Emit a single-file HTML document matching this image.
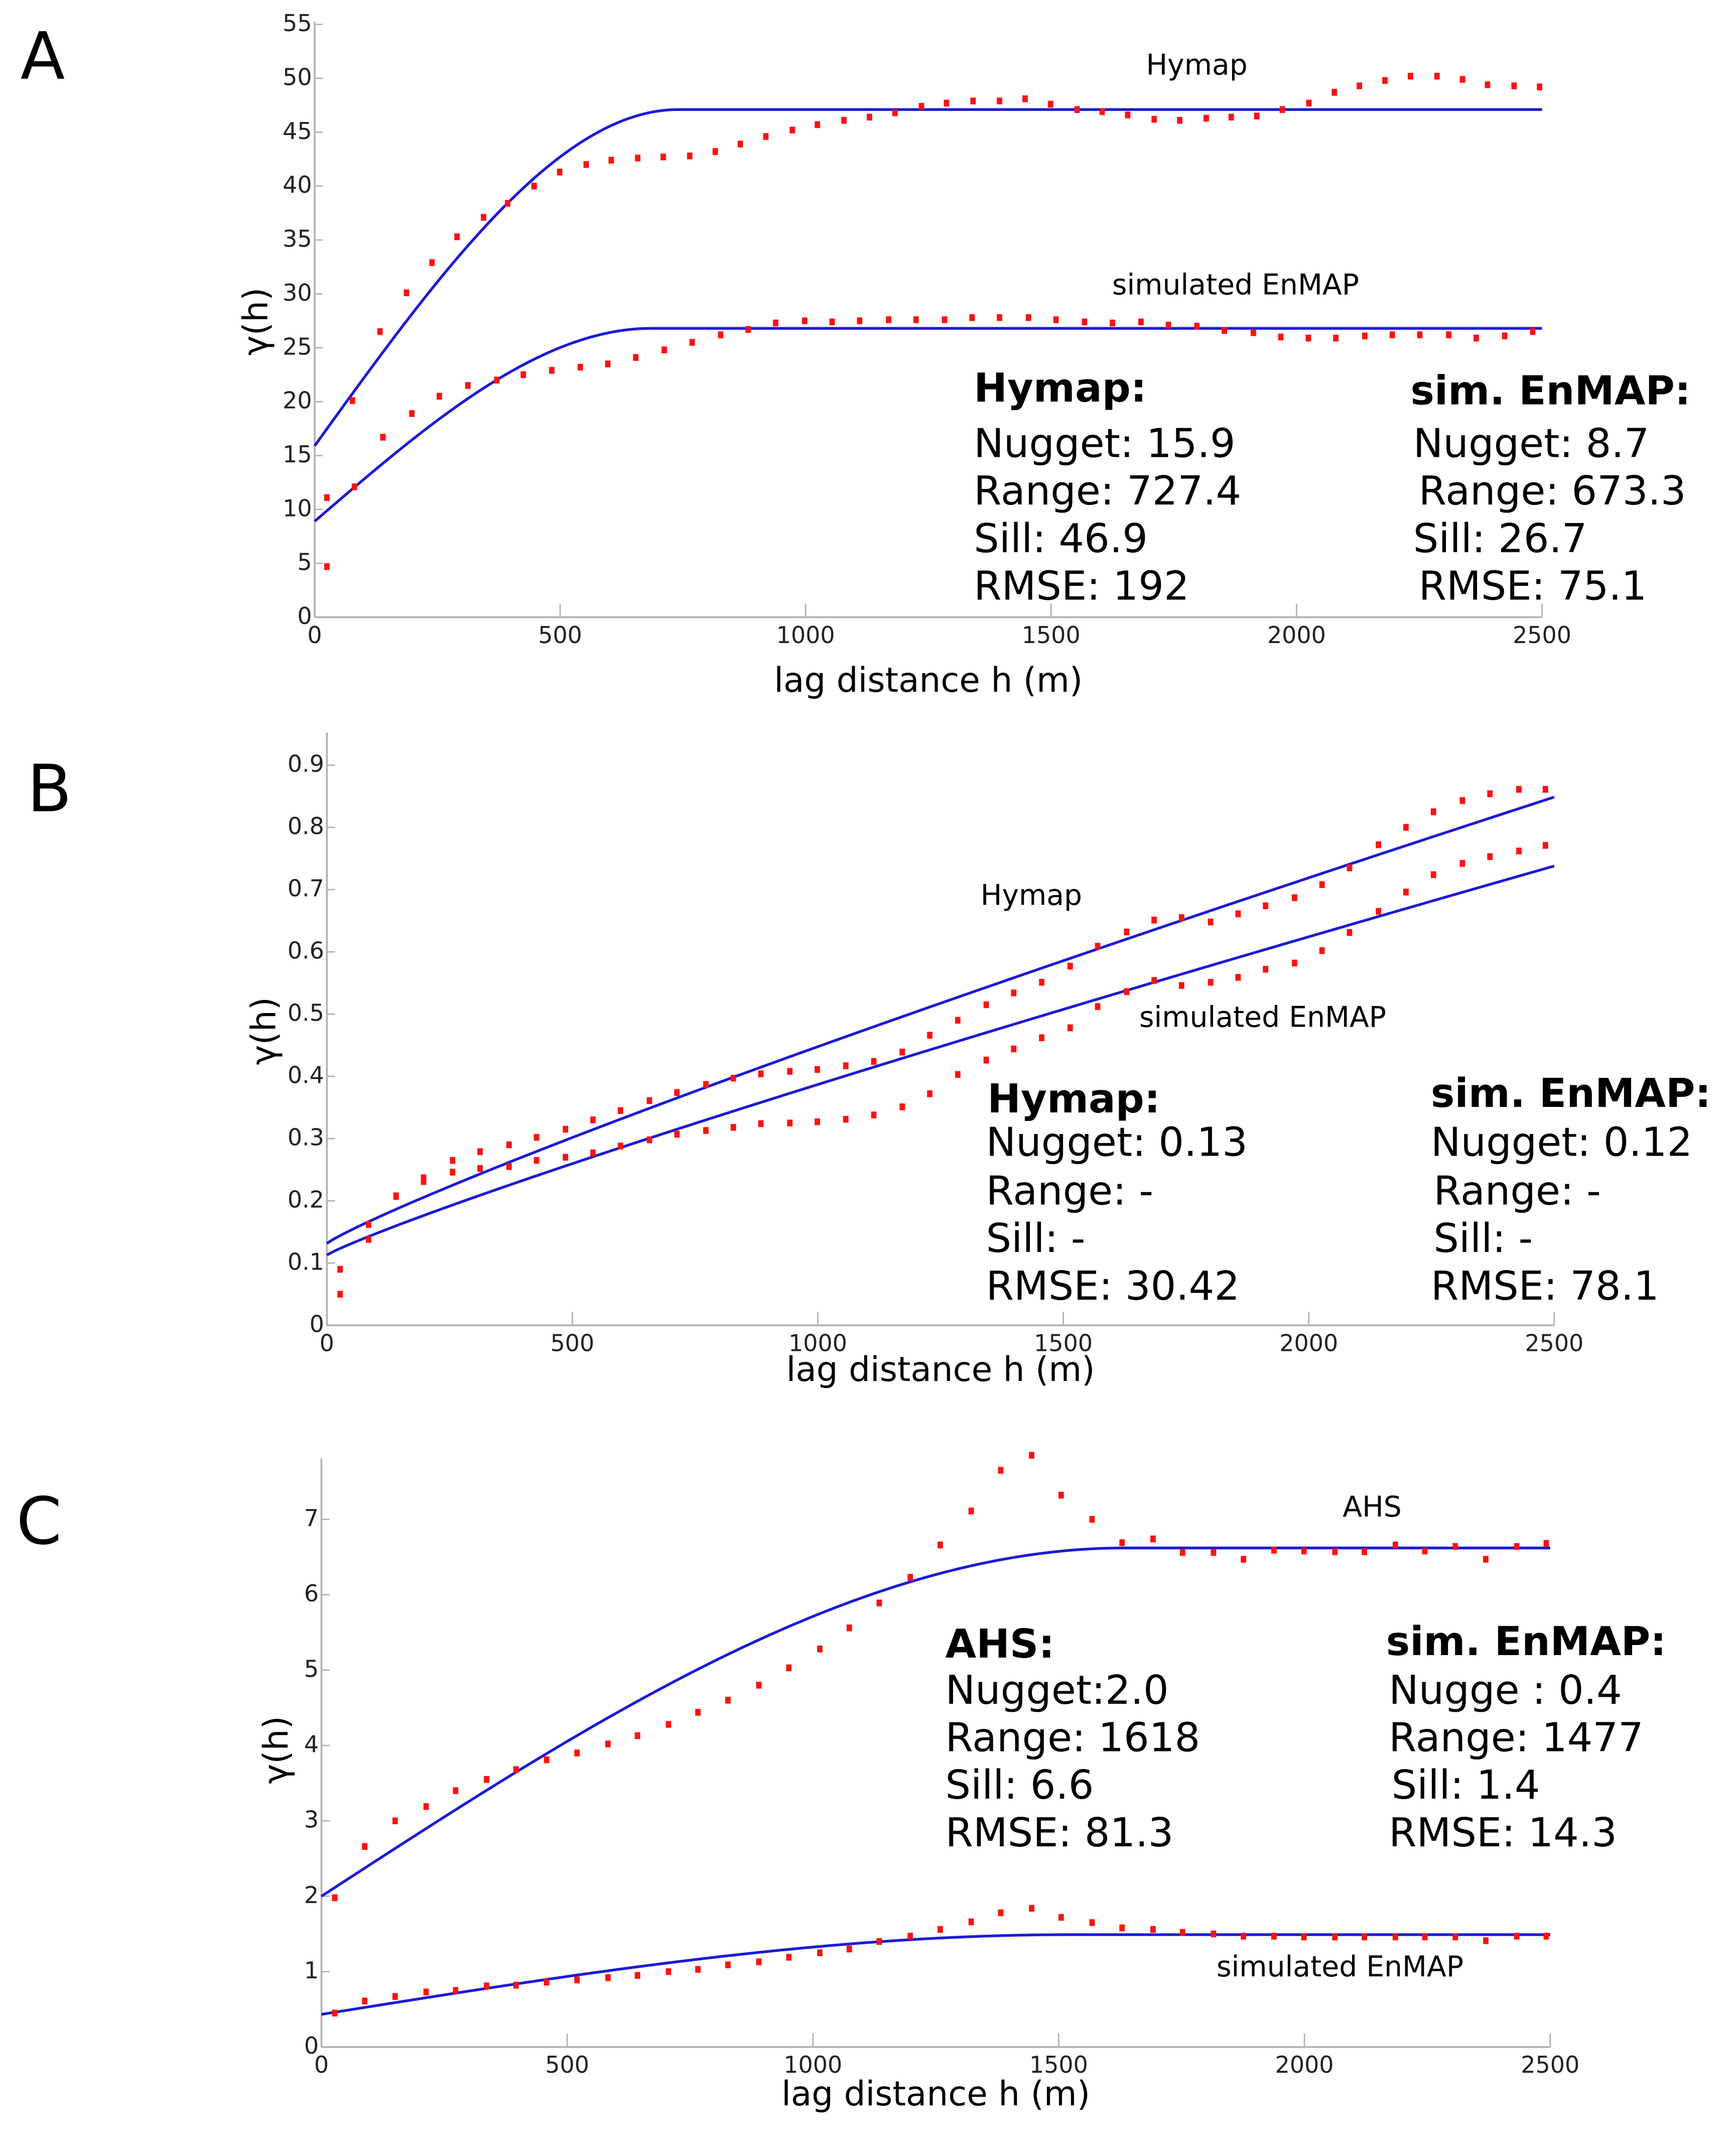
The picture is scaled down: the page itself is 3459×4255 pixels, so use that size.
<!DOCTYPE html>
<html><head><meta charset="utf-8"><style>
html,body{margin:0;padding:0;background:#fff;}
svg{display:block;}
text{font-family:"DejaVu Sans","Liberation Sans",sans-serif;}
</style></head><body>
<svg id="fig" xmlns="http://www.w3.org/2000/svg" width="3459" height="4255" viewBox="0 0 1280 1574.6">
<rect width="1280" height="1574.6" fill="#fff"/>
</svg>
<script>
// ---------- Panel A data ----------
const aHymapLag = [25,77,133,187,239,290,344,393,447,499,553,604,658,710,764,816,867,919,973,1024,1078,1130,1182,1236,1287,1341,1395,1447,1499,1553,1604,1656,1710,1762,1816,1867,1919,1971,2025,2077,2128,2180,2232,2286,2338,2389,2443,2495];
const aHymapGamma = [11.1,20.1,26.5,30.1,32.9,35.3,37.1,38.4,40.0,41.3,42.0,42.4,42.6,42.7,42.8,43.2,43.9,44.6,45.2,45.7,46.1,46.4,46.8,47.4,47.7,47.9,47.9,48.1,47.6,47.1,46.9,46.6,46.2,46.1,46.3,46.4,46.5,47.1,47.7,48.7,49.3,49.8,50.2,50.2,49.9,49.4,49.3,49.2];
const aEnmapLag = [25,81,139,198,254,312,371,425,483,541,597,654,712,769,827,883,939,998,1054,1110,1169,1225,1283,1339,1395,1454,1510,1568,1625,1683,1739,1797,1853,1912,1968,2024,2080,2139,2195,2251,2310,2366,2424,2481];
const aEnmapGamma = [4.7,12.1,16.7,18.9,20.5,21.5,22.0,22.5,22.9,23.2,23.5,24.1,24.8,25.5,26.2,26.7,27.3,27.5,27.4,27.5,27.6,27.6,27.6,27.8,27.8,27.8,27.6,27.4,27.3,27.4,27.1,27.0,26.6,26.4,26.0,25.9,25.9,26.1,26.2,26.2,26.2,25.9,26.1,26.5];
const aModelNugget = [15.9, 8.9];
const aModelSill = [47.1, 26.8];
const aModelRange = [740, 685];
const aYTicks = [0,5,10,15,20,25,30,35,40,45,50,55];
const xTicks = [0,500,1000,1500,2000,2500];

// ---------- Panel B data ----------
const bHymapLag = [27,85,141,197,256,312,371,427,486,542,598,657,713,772,828,884,943,999,1057,1114,1172,1228,1285,1343,1399,1456,1514,1570,1629,1685,1741,1800,1856,1912,1971,2027,2083,2142,2198,2254,2313,2369,2428,2482];
const bHymapGamma = [0.09,0.162,0.208,0.237,0.265,0.279,0.29,0.302,0.315,0.33,0.345,0.361,0.374,0.387,0.397,0.404,0.408,0.411,0.417,0.424,0.439,0.466,0.49,0.515,0.534,0.551,0.577,0.609,0.632,0.651,0.655,0.648,0.661,0.674,0.687,0.708,0.735,0.772,0.8,0.825,0.843,0.854,0.861,0.861];
const bEnmapLag = bHymapLag;
const bEnmapGamma = [0.05,0.138,0.207,0.231,0.246,0.252,0.255,0.265,0.27,0.277,0.288,0.298,0.307,0.313,0.318,0.324,0.325,0.327,0.331,0.338,0.351,0.372,0.403,0.426,0.444,0.462,0.478,0.512,0.536,0.554,0.546,0.551,0.559,0.572,0.582,0.602,0.631,0.665,0.696,0.724,0.742,0.753,0.762,0.771];
const bModelNugget = [0.1316, 0.1129];
const bModelGain = [0.717, 0.625];
const bModelPower = [0.894, 0.9];
const bYTicks = [0,0.1,0.2,0.3,0.4,0.5,0.6,0.7,0.8,0.9];

// ---------- Panel C data ----------
const cAhsLag = [27,88,150,213,273,336,396,458,520,583,643,706,766,827,890,951,1014,1074,1135,1198,1259,1322,1382,1445,1505,1568,1629,1692,1752,1815,1876,1938,1999,2062,2122,2185,2245,2307,2369,2432,2492];
const cAhsGamma = [1.98,2.66,3.0,3.19,3.4,3.55,3.68,3.81,3.9,4.02,4.13,4.28,4.44,4.6,4.8,5.03,5.28,5.56,5.89,6.23,6.66,7.11,7.65,7.85,7.32,7.0,6.69,6.74,6.56,6.56,6.47,6.59,6.58,6.57,6.57,6.66,6.58,6.64,6.47,6.64,6.68];
const cEnmapLag = cAhsLag;
const cEnmapGamma = [0.45,0.61,0.67,0.73,0.75,0.81,0.82,0.86,0.89,0.92,0.95,1.0,1.03,1.09,1.13,1.19,1.25,1.3,1.4,1.47,1.56,1.66,1.78,1.84,1.72,1.65,1.58,1.56,1.52,1.5,1.47,1.47,1.46,1.46,1.46,1.46,1.46,1.46,1.41,1.47,1.47];
const cModelNugget = [2.0, 0.433];
const cModelSill = [6.62, 1.49];
const cModelRange = [1634, 1520];
const cYTicks = [0,1,2,3,4,5,6,7];

const NS = 'http://www.w3.org/2000/svg';
const svg = document.getElementById('fig');
function mk(tag, attrs, parent) {
  const e = document.createElementNS(NS, tag);
  for (const k in attrs) e.setAttribute(k, attrs[k]);
  (parent || svg).appendChild(e);
  return e;
}
function txt(parent, x, y, s, size, opts) {
  const t = mk('text', Object.assign({x: x, y: y, 'font-size': size, fill: '#000'}, opts || {}), parent);
  t.textContent = s;
  return t;
}
function spherical(h, n, s, a) {
  if (h >= a) return s;
  const r = h / a;
  return n + (s - n) * (1.5 * r - 0.5 * r * r * r);
}

function panel(cfg) {
  const g = mk('g', {});
  
  
  const X = v => cfg.x0 + (v / 2500) * (cfg.x1 - cfg.x0);
  const Y = v => cfg.y0 - v * cfg.ppu;
  const ax = mk('g', {}, g);
  
  
  mk('line', {x1: cfg.x0, y1: cfg.top, x2: cfg.x0, y2: cfg.y0, stroke: '#b0b0b0', 'stroke-width': 1.3}, ax);
  mk('line', {x1: cfg.x0, y1: cfg.y0, x2: cfg.x1, y2: cfg.y0, stroke: '#b0b0b0', 'stroke-width': 1.3}, ax);
  cfg.yTicks.forEach(v => {
    mk('line', {x1: cfg.x0, y1: Y(v), x2: cfg.x0 + 6, y2: Y(v), stroke: '#b0b0b0', 'stroke-width': 1}, ax);
    const t = txt(ax, cfg.x0 - 2, Y(v) + 5, String(v), 17, {'text-anchor': 'end', fill: '#222'});
    
    
  });
  xTicks.forEach(v => {
    mk('line', {x1: X(v), y1: cfg.y0, x2: X(v), y2: cfg.y0 - 10, stroke: '#b0b0b0', 'stroke-width': 1}, ax);
    const t = txt(ax, X(v), cfg.y0 + 19, String(v), 17, {'text-anchor': 'middle', fill: '#222'});
    
    
  });
  const xt = txt(g, (cfg.x0 + cfg.x1) / 2, cfg.xTitleY, 'lag distance h (m)', 25, {'text-anchor': 'middle'});
  
  
  const yt = txt(g, 0, 0, 'γ(h)', 25, {'text-anchor': 'middle', transform: 'translate(' + cfg.yTitleX + ',' + cfg.yTitleY + ') rotate(-90)'});
  
  
  const pl = txt(g, cfg.letterX, cfg.letterY, cfg.letter, 48);
  
  
  cfg.models.forEach((fn, i) => {
    let d = '';
    for (let h = 0; h <= 2500; h += 10) d += (h ? 'L' : 'M') + X(h).toFixed(2) + ',' + Y(fn(h)).toFixed(2);
    const p = mk('path', {d: d, fill: 'none', stroke: '#1a1ad6', 'stroke-width': 2}, g);
    
    
  });
  cfg.series.forEach((s, si) => {
    const sg = mk('g', {}, g);
    
    
    s.lag.forEach((h, i) => {
      const r = mk('rect', {x: X(h) - 2, y: Y(s.gamma[i]) - 2.5, width: 4, height: 5, fill: '#ff1010'}, sg);
      
      
    });
  });
  cfg.labels.forEach(l => {
    const t = txt(g, l[0], l[1], l[2], l[3], l[4] ? {'font-weight': 'bold'} : {});
    
    
  });
}

const S = 29.5, L = 21;
panel({
  name: 'panel-a', letter: 'A', letterX: 15, letterY: 58,
  x0: 232, x1: 1137, y0: 455, ppu: (455 - 18) / 55, top: 16,
  yTicks: aYTicks, xTitleY: 510, yTitleX: 197, yTitleY: 237,
  models: [h => spherical(h, aModelNugget[0], aModelSill[0], aModelRange[0]),
           h => spherical(h, aModelNugget[1], aModelSill[1], aModelRange[1])],
  series: [{lag: aHymapLag, gamma: aHymapGamma}, {lag: aEnmapLag, gamma: aEnmapGamma}],
  labels: [[845, 55, 'Hymap', L], [820, 217, 'simulated EnMAP', L],
           [718, 296, 'Hymap:', S, 1], [718, 337, 'Nugget: 15.9', S], [718, 372, 'Range: 727.4', S], [718, 407, 'Sill: 46.9', S], [718, 442, 'RMSE: 192', S],
           [1040, 298, 'sim. EnMAP:', S, 1], [1042, 337, 'Nugget: 8.7', S], [1046, 372, 'Range: 673.3', S], [1042, 407, 'Sill: 26.7', S], [1046, 442, 'RMSE: 75.1', S]]
});

panel({
  name: 'panel-b', letter: 'B', letterX: 20, letterY: 598,
  x0: 241, x1: 1146, y0: 977, ppu: (977 - 564) / 0.9, top: 540,
  yTicks: bYTicks, xTitleY: 1018, yTitleX: 203, yTitleY: 760,
  models: [h => bModelNugget[0] + bModelGain[0] * Math.pow(h / 2500, bModelPower[0]),
           h => bModelNugget[1] + bModelGain[1] * Math.pow(h / 2500, bModelPower[1])],
  series: [{lag: bHymapLag, gamma: bHymapGamma}, {lag: bEnmapLag, gamma: bEnmapGamma}],
  labels: [[723, 667, 'Hymap', L], [840, 757, 'simulated EnMAP', L],
           [728, 820, 'Hymap:', S, 1], [727, 852, 'Nugget: 0.13', S], [727, 888, 'Range: -', S], [727, 923, 'Sill: -', S], [727, 958, 'RMSE: 30.42', S],
           [1055, 816, 'sim. EnMAP:', S, 1], [1055, 852, 'Nugget: 0.12', S], [1057, 888, 'Range: -', S], [1057, 923, 'Sill: -', S], [1055, 958, 'RMSE: 78.1', S]]
});

panel({
  name: 'panel-c', letter: 'C', letterX: 12, letterY: 1138,
  x0: 237, x1: 1143, y0: 1509, ppu: (1509 - 1120) / 7, top: 1075,
  yTicks: cYTicks, xTitleY: 1552, yTitleX: 212, yTitleY: 1290,
  models: [h => spherical(h, cModelNugget[0], cModelSill[0], cModelRange[0]),
           h => spherical(h, cModelNugget[1], cModelSill[1], cModelRange[1])],
  series: [{lag: cAhsLag, gamma: cAhsGamma}, {lag: cEnmapLag, gamma: cEnmapGamma}],
  labels: [[990, 1118, 'AHS', L], [897, 1457, 'simulated EnMAP', L],
           [697, 1222, 'AHS:', S, 1], [697, 1256, 'Nugget:2.0', S], [697, 1291, 'Range: 1618', S], [697, 1326, 'Sill: 6.6', S], [697, 1361, 'RMSE: 81.3', S],
           [1022, 1220, 'sim. EnMAP:', S, 1], [1024, 1256, 'Nugge : 0.4', S], [1024, 1291, 'Range: 1477', S], [1026, 1326, 'Sill: 1.4', S], [1024, 1361, 'RMSE: 14.3', S]]
});
</script>
</body></html>
